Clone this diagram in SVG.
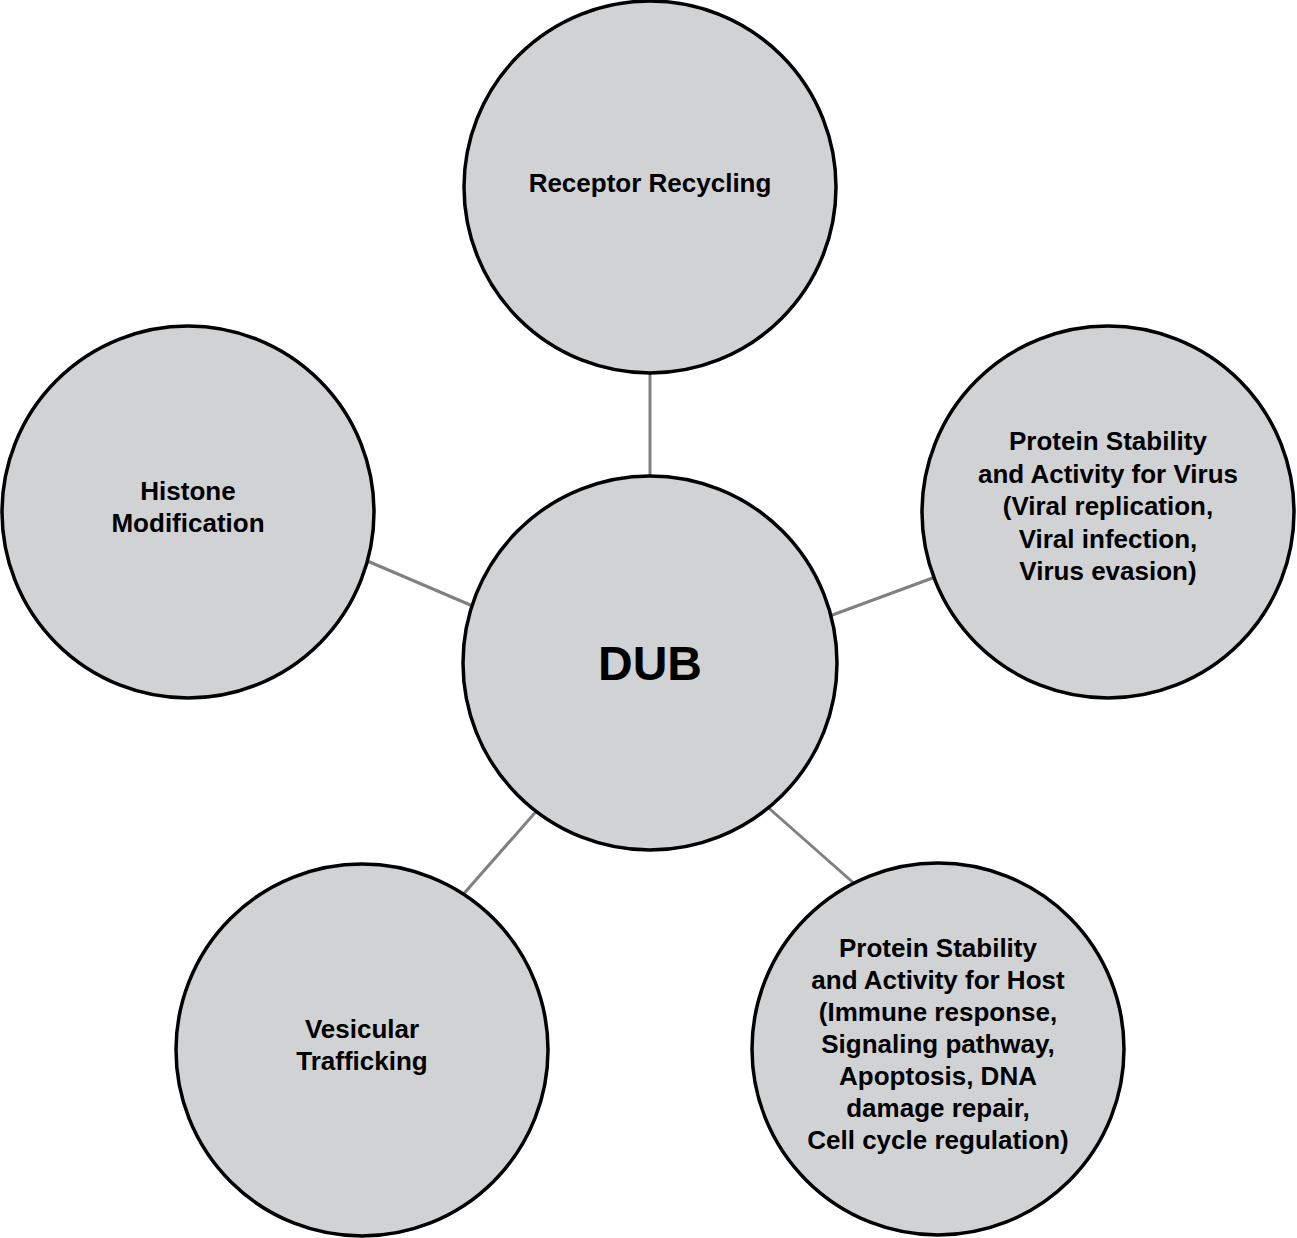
<svg xmlns="http://www.w3.org/2000/svg" width="1297" height="1238" viewBox="0 0 1297 1238">
<style>
.node circle{fill:#d1d2d4;stroke:#000;stroke-width:3.5}
.node text{font-family:"Liberation Sans",Arial,sans-serif;font-weight:bold;font-size:26px;fill:#000;text-anchor:middle}
#connectors line{stroke:#808080;stroke-width:3}
</style>
<rect width="1297" height="1238" fill="#fff"/>
<g id="connectors">
<line x1="650" y1="370" x2="650" y2="480"/>
<line x1="365" y1="560" x2="475" y2="607"/>
<line x1="827" y1="617" x2="938" y2="576"/>
<line x1="460" y1="898" x2="540" y2="807"/>
<line x1="763" y1="803" x2="857" y2="886"/>
</g>
<g id="node-receptor" class="node">
<circle cx="650" cy="187" r="186"/>
<text x="650" y="192">Receptor Recycling</text>
</g>
<g id="node-histone" class="node">
<circle cx="188" cy="512" r="186"/>
<text x="188" y="500">Histone</text>
<text x="188" y="532">Modification</text>
</g>
<g id="node-virus" class="node">
<circle cx="1108" cy="512" r="186"/>
<text x="1108" y="450">Protein Stability</text>
<text x="1108" y="482.5">and Activity for Virus</text>
<text x="1108" y="515">(Viral replication,</text>
<text x="1108" y="547.5">Viral infection,</text>
<text x="1108" y="580">Virus evasion)</text>
</g>
<g id="node-dub" class="node">
<circle cx="650" cy="663" r="187"/>
<text x="650" y="680" style="font-size:48px">DUB</text>
</g>
<g id="node-vesicular" class="node">
<circle cx="362" cy="1050" r="186"/>
<text x="362" y="1038">Vesicular</text>
<text x="362" y="1070">Trafficking</text>
</g>
<g id="node-host" class="node">
<circle cx="938" cy="1049" r="186"/>
<text x="938" y="957">Protein Stability</text>
<text x="938" y="989">and Activity for Host</text>
<text x="938" y="1021">(Immune response,</text>
<text x="938" y="1053">Signaling pathway,</text>
<text x="938" y="1085">Apoptosis, DNA</text>
<text x="938" y="1117">damage repair,</text>
<text x="938" y="1149">Cell cycle regulation)</text>
</g>
</svg>
